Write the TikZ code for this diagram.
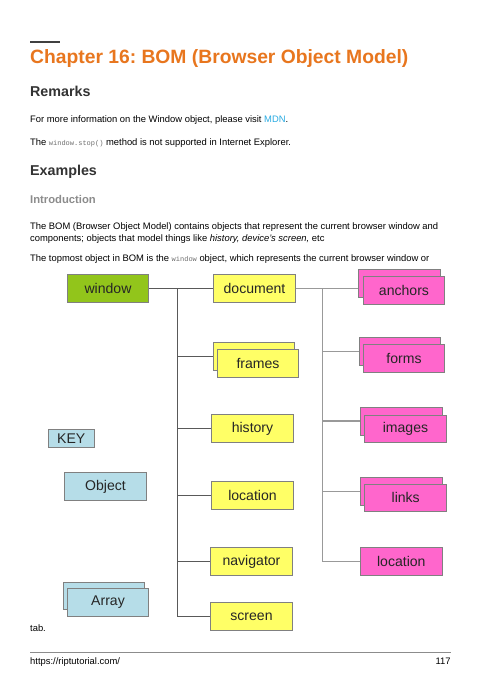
\documentclass[tikz,border=0pt]{standalone}
\usepackage{fontspec}
\setmainfont{Liberation Sans}
\setmonofont{Liberation Mono}
\frenchspacing
\definecolor{titleorange}{HTML}{E8761E}
\definecolor{headdark}{HTML}{333333}
\definecolor{introgray}{HTML}{8C8C8C}
\definecolor{linkblue}{HTML}{29ABE2}
\definecolor{codegray}{HTML}{6E6E6E}
\definecolor{boxgray}{HTML}{808080}
\definecolor{wingreen}{HTML}{92C51B}
\definecolor{objyellow}{HTML}{FFFF66}
\definecolor{objpink}{HTML}{FF66CC}
\definecolor{keyblue}{HTML}{B6DDE8}
\begin{document}
\begin{tikzpicture}[x=0.04375cm,y=-0.04375cm,
    txt/.style={anchor=base west,inner sep=0pt,text=black,font=\fontsize{11.7}{14}\selectfont},
    head/.style={anchor=base west,inner sep=0pt,text=headdark,font=\bfseries\fontsize{17.8}{20}\selectfont},
    box/.style={draw=boxgray,line width=0.9pt,minimum width=101.7pt,minimum height=34.7pt,
        inner sep=0pt,text=black!85,font=\fontsize{17.5}{20}\selectfont},
    darkline/.style={draw=black!65,line width=1.1pt},
    lightline/.style={draw=black!40,line width=1.3pt}]

    % Page
    \fill[white] (0,0) rectangle (480,679);
    \useasboundingbox (0,0) rectangle (480,679);
    \draw[line width=1.6pt,black!75] (30,42) -- (60,42);

    % Headings and text
    \node[anchor=base west,inner sep=0pt,text=titleorange,font=\bfseries\fontsize{24}{28}\selectfont]
        (title) at (30,63) {Chapter 16: BOM (Browser Object Model)};
    \node[head] (remarks) at (30,96.7) {Remarks};
    \node[txt] (mdn) at (30,122.7) {For more information on the Window object, please visit \textcolor{linkblue}{MDN}.};
    \node[txt] (stop) at (30,145) {The {\ttfamily\fontsize{8.7}{10}\selectfont\color{codegray}window.stop()} method is not supported in Internet Explorer.};
    \node[head] (examples) at (30,175) {Examples};
    \node[anchor=base west,inner sep=0pt,text=introgray,font=\bfseries\fontsize{14}{16}\selectfont]
        (intro) at (30,203.3) {Introduction};
    \node[txt] (para1) at (30,229.5) {The BOM (Browser Object Model) contains objects that represent the current browser window and};
    \node[txt] (para2) at (30,241) {components; objects that model things like \textit{history, device’s screen,} etc};
    \node[txt] (para3) at (30,261.7) {The topmost object in BOM is the {\ttfamily\fontsize{8.7}{10}\selectfont\color{codegray}window} object, which represents the current browser window or};
    \node[txt] (tab) at (30,631.7) {tab.};

    % Footer
    \draw[black!45,line width=0.8pt] (30,652.7) -- (450.7,652.7);
    \node[txt] (url) at (30,664) {https://riptutorial.com/};
    \node[txt,anchor=base east] (page) at (450.7,664) {117};

    % Window and its children
    \node[box,fill=wingreen] (window) at (108,288) {window};
    \node[box,fill=objyellow] (document) at (254.5,288.5) {document};
    \node[box,fill=objyellow] (framesB) at (254,356) {};
    \node[box,fill=objyellow] (frames) at (258,363) {frames};
    \node[box,fill=objyellow] (history) at (252.5,428.5) {history};
    \node[box,fill=objyellow] (location) at (252.5,495.5) {location};
    \node[box,fill=objyellow] (navigator) at (251.5,561.5) {navigator};
    \node[box,fill=objyellow] (screen) at (251.5,616.5) {screen};

    % Document and its children
    \node[box,fill=objpink] (anchorsB) at (399.5,283.5) {};
    \node[box,fill=objpink] (anchors) at (404,290.5) {anchors};
    \node[box,fill=objpink] (formsB) at (400,351.5) {};
    \node[box,fill=objpink] (forms) at (404,358.5) {forms};
    \node[box,fill=objpink] (imagesB) at (401.3,421) {};
    \node[box,fill=objpink] (images) at (405.5,428.8) {images};
    \node[box,fill=objpink] (linksB) at (401.5,491.3) {};
    \node[box,fill=objpink] (links) at (405.7,497.8) {links};
    \node[box,fill=objpink] (doclocation) at (401.3,561.2) {location};

    % Key
    \node[box,fill=keyblue,minimum width=57pt,minimum height=22.8pt] (key) at (71.3,438.5) {KEY};
    \node[box,fill=keyblue] (object) at (105.5,486.7) {Object};
    \node[box,fill=keyblue] (arrayB) at (103.8,595.8) {};
    \node[box,fill=keyblue] (array) at (108,602.5) {Array};

    % Connectors
    \coordinate (j1) at (177,288);
    \coordinate (j2) at (322.3,288);
    \draw[darkline] (window.east) -- (window.east -| document.west);
    \draw[darkline] (j1) -- (j1 |- screen.west);
    \foreach \n in {framesB,history,location,navigator,screen}
        \draw[darkline] (j1 |- \n.west) -- (\n.west);
    \draw[lightline] (document.east) -- (document.east -| anchorsB.west);
    \draw[lightline] (j2) -- (j2 |- doclocation.west);
    \foreach \n in {formsB,imagesB,linksB,doclocation}
        \draw[lightline] (j2 |- \n.west) -- (\n.west);

\end{tikzpicture}
\end{document}
